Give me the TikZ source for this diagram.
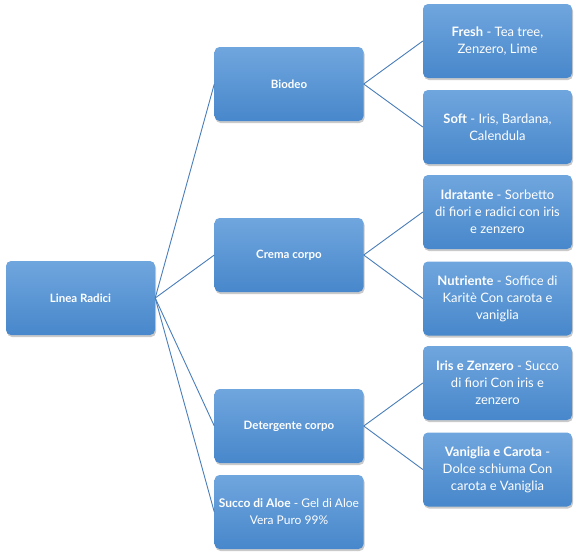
\documentclass[tikz,border=0pt]{standalone}
\usepackage{fontspec}
\setmainfont{Lato}
\usetikzlibrary{positioning,shadows}
\definecolor{boxtop}{HTML}{70A6DE}
\definecolor{boxbot}{HTML}{4787CB}
\definecolor{linkc}{HTML}{4A7EBB}

\begin{document}
\begin{tikzpicture}[x=1pt,y=-1pt
			,box/.style={rectangle, rounded corners=5pt, minimum width=149pt, minimum height=74pt
				, top color=boxtop, bottom color=boxbot, text=white, align=center, inner sep=2pt
				, drop shadow={shadow xshift=1pt, shadow yshift=-2pt, fill=black!60, opacity=.35}}
			,hub/.style={box, font=\fontsize{11.5}{14}\selectfont\bfseries}
			,leaf/.style={box, font=\fontsize{13}{17}\selectfont}
			,link/.style={draw=linkc, line width=0.9pt}
		]
			\useasboundingbox (0,0) rectangle (586,557);
			% root and first level
			\node [hub] (root) at (80.5,298) {Linea Radici};
			\node [hub] (bio) at (289,84) {Biodeo};
			\node [hub] (crema) at (289,255) {Crema corpo};
			\node [hub] (deter) at (289,426) {Detergente corpo};
			\node [leaf, font=\fontsize{12}{17}\selectfont] (aloe) at (289,512) {\textbf{Succo di Aloe} - Gel di Aloe\\Vera Puro 99\%};
			% second level
			\node [leaf] (fresh) at (497.5,41) {\textbf{Fresh} - Tea tree,\\Zenzero, Lime};
			\node [leaf] (soft) at (497.5,127) {\textbf{Soft} - Iris, Bardana,\\Calendula};
			\node [leaf] (idra) at (497.5,212) {\textbf{Idratante} - Sorbetto\\di fiori e radici con iris\\e zenzero};
			\node [leaf] (nutri) at (497.5,298.5) {\textbf{Nutriente} - Soffice di\\Karitè Con carota e\\vaniglia};
			\node [leaf] (iris) at (497.5,383) {\textbf{Iris e Zenzero} - Succo\\di fiori Con iris e\\zenzero};
			\node [leaf] (vani) at (497.5,469.5) {\textbf{Vaniglia e Carota} -\\Dolce schiuma Con\\carota e Vaniglia};
			% connectors
			\foreach \n in {bio,crema,deter,aloe}
				\draw [link] (root.east) -- (\n.west);
			\draw [link] (bio.east) -- (fresh.west);
			\draw [link] (bio.east) -- (soft.west);
			\draw [link] (crema.east) -- (idra.west);
			\draw [link] (crema.east) -- (nutri.west);
			\draw [link] (deter.east) -- (iris.west);
			\draw [link] (deter.east) -- (vani.west);
		\end{tikzpicture}
\end{document}
